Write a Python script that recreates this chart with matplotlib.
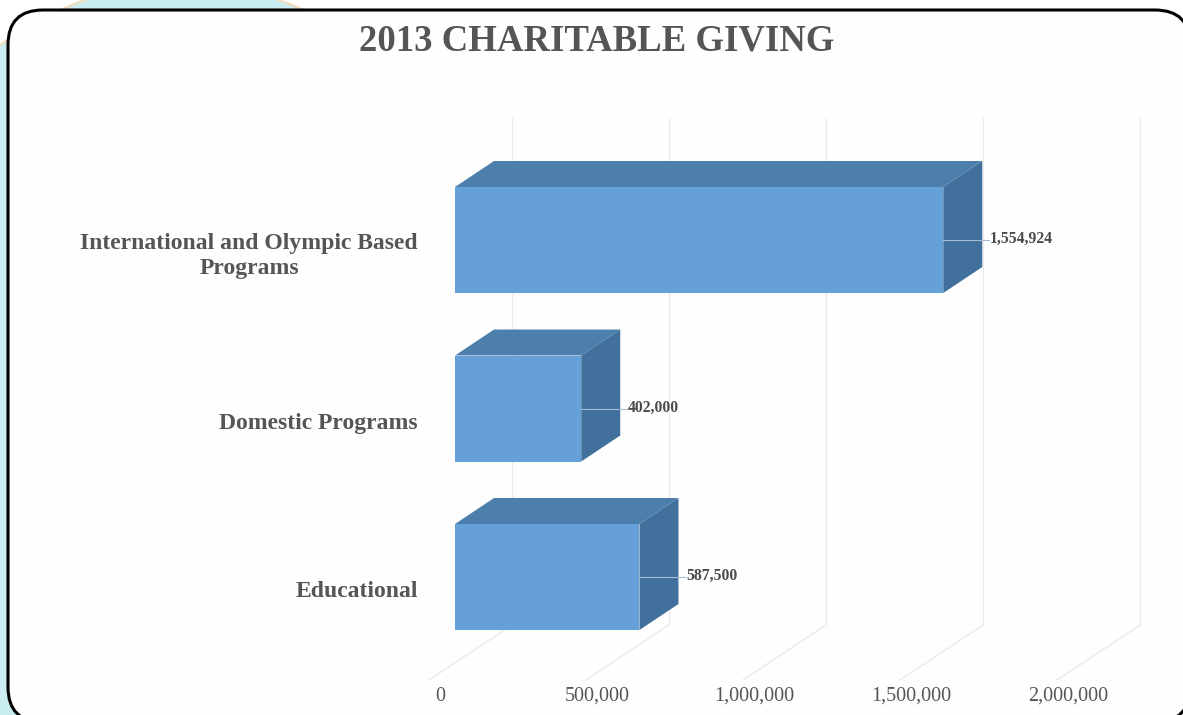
import matplotlib
matplotlib.use("Agg")
import matplotlib.pyplot as plt
from matplotlib.patches import Polygon, FancyBboxPatch, Ellipse
from matplotlib.transforms import ScaledTranslation

# ---------------- data ----------------
categories = ["Educational", "Domestic Programs", "International and Olympic Based\nPrograms"]
values = [587500, 402000, 1554924]
value_labels = ["587,500", "402,000", "1,554,924"]
ticks = [0, 500000, 1000000, 1500000, 2000000]
tick_labels = ["0", "500,000", "1,000,000", "1,500,000", "2,000,000"]
title = "2013 CHARITABLE GIVING"

# ---------------- style ----------------
W, H = 1183, 715
FRONT = "#65a1d8"
TOP = "#4d7fad"
SIDE = "#40709b"
TEXT = "#555555"
GRID = "#ebebeb"
SERIF = ["Liberation Serif", "DejaVu Serif"]

fig = plt.figure(figsize=(W / 100, H / 100), dpi=100)
fig.patch.set_facecolor("white")

# background decoration (pixel coordinates)
bg = fig.add_axes([0, 0, 1, 1], zorder=-5)
bg.set_xlim(0, W)
bg.set_ylim(H, 0)
bg.axis("off")
bg.add_patch(Ellipse((182, 402), 697, 837, facecolor="#c9edf0", edgecolor="#f3dcb8", lw=1.5))
bg.add_patch(FancyBboxPatch((8, 10), 1190 - 8, 722 - 10,
                            boxstyle="round,pad=0,rounding_size=35",
                            facecolor="#fefefe", edgecolor="black", lw=2.2))

# ---------------- main axes geometry ----------------
PX = 500000 / 157.0          # value units per pixel
SY = 1 / 168.5               # category units per pixel
X0 = 455                     # pixel of value 0 (front face)
YC = 577                     # pixel of category index 0 centre

ax_l, ax_r, ax_t, ax_b = 425, 1165, 110, 680
ax = fig.add_axes([ax_l / W, 1 - ax_b / H, (ax_r - ax_l) / W, (ax_b - ax_t) / H])
ax.set_facecolor("none")
ax.set_xlim((ax_l - X0) * PX, (ax_r - X0) * PX)
ax.set_ylim((YC - ax_b) * SY, (YC - ax_t) * SY)
for s in ax.spines.values():
    s.set_visible(False)

pos = list(range(len(categories)))
bar_h = 106 * SY
dx, dy = 39 * PX, 26 * SY

# gridlines: back wall + floor
back_dx = 57 * PX
front_dx = -26 * PX
floor_back_y = (YC - 625) * SY
floor_front_y = (YC - 680) * SY
wall_top_y = (YC - 118) * SY
for t in ticks:
    ax.plot([t + back_dx, t + back_dx], [floor_back_y, wall_top_y], color=GRID, lw=1.0, zorder=0.5)
    ax.plot([t + front_dx, t + back_dx], [floor_front_y, floor_back_y], color=GRID, lw=1.0, zorder=0.5)

# bars
ax.barh(pos, values, height=bar_h, color=FRONT, zorder=3)
for p, v, lab in zip(pos, values, value_labels):
    top = p + bar_h / 2
    bot = p - bar_h / 2
    ax.add_patch(Polygon([(0, top), (v, top), (v + dx, top + dy), (dx, top + dy)],
                         closed=True, facecolor=TOP, edgecolor="none", zorder=3))
    ax.add_patch(Polygon([(v, bot), (v + dx, bot + dy), (v + dx, top + dy), (v, top)],
                         closed=True, facecolor=SIDE, edgecolor="none", zorder=3))
    ax.plot([v, v + 46 * PX], [p, p], color="#a9bdd2", lw=0.8, zorder=4)
    ax.text(v + 47 * PX, p + 1 * SY, lab, ha="left", va="center", fontsize=11.3, family=SERIF,
            fontweight="bold", color="#4a4a4a", zorder=5)

# ticks
ax.set_xticks(ticks, labels=tick_labels)
ax.tick_params(axis="x", length=0, pad=5, labelsize=14.5, labelcolor="#555555")
for lab in ax.get_xticklabels():
    lab.set_family(SERIF)
    lab.set_transform(lab.get_transform() + ScaledTranslation(-15 / 100, 0, fig.dpi_scale_trans))

ax.set_yticks(pos, labels=categories)
ax.tick_params(axis="y", length=0, pad=5, labelsize=17, labelcolor=TEXT)
for lab in ax.get_yticklabels():
    lab.set_family(SERIF)
    lab.set_fontweight("bold")
    lab.set_multialignment("center")
    lab.set_linespacing(1.2)
    lab.set_transform(lab.get_transform() + ScaledTranslation(0, -12 / 100, fig.dpi_scale_trans))

fig.text(597 / W, 1 - 41 / H, title, ha="center", va="center", fontsize=26.5,
         family=SERIF, fontweight="bold", color=TEXT)

fig.savefig("out.png", dpi=100, facecolor=fig.get_facecolor())
